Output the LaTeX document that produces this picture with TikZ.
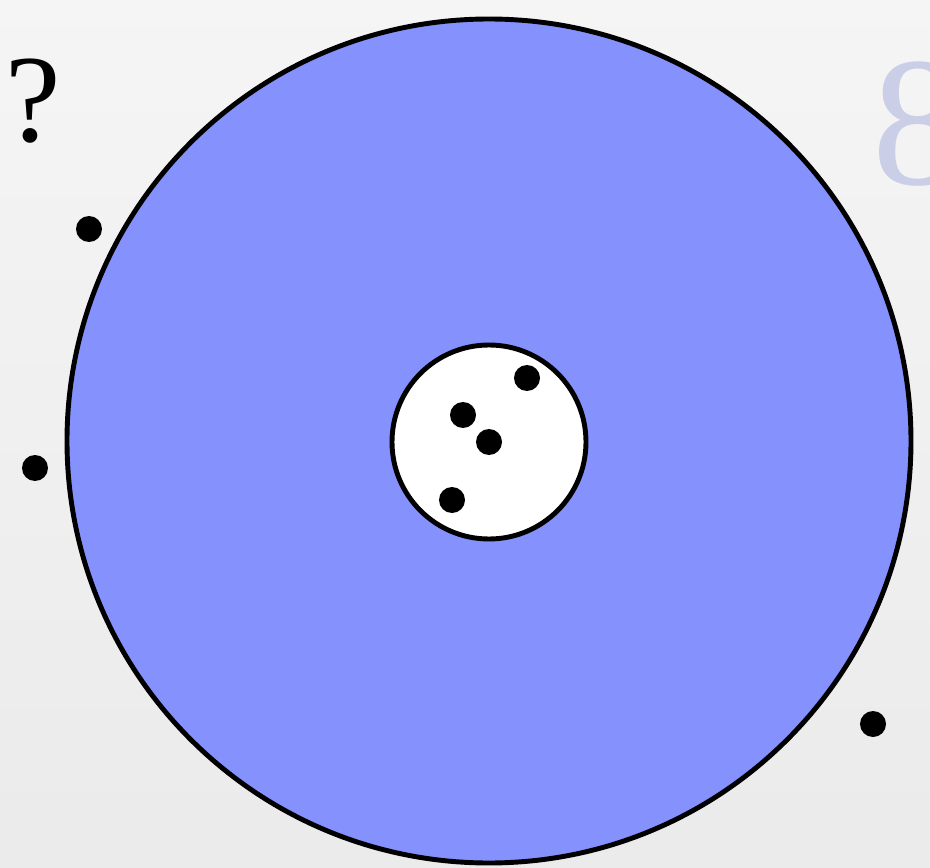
\documentclass[tikz,border=0pt]{standalone}
\usepackage{fontspec}
\setmainfont{Liberation Serif}
\definecolor{regionblue}{RGB}{133,145,253}
\definecolor{faintnum}{RGB}{202,206,230}
\begin{document}
\begin{tikzpicture}[
          x=0.02cm, y=-0.02cm,
          region/.style={
            circle, draw=black, line width=2.8pt, inner sep=0pt
          },
          outer/.style={region, fill=regionblue, minimum size=844*0.02cm},
          inner/.style={region, fill=white, minimum size=194*0.02cm},
          point/.style={circle, fill=black, inner sep=0pt, minimum size=26*0.02cm},
        ]
          % Frame and background
          \useasboundingbox (0,0) rectangle (930,868);
          \shade[top color=black!4, bottom color=black!8] (0,0) rectangle (930,868);
          \clip (0,0) rectangle (930,868);

          % Labels
          \node[anchor=base east, inner sep=0pt, font=\fontsize{71}{76}\selectfont] (ask) at (61,142) {.?};
          \node[anchor=base west, inner sep=0pt, text=faintnum, font=\fontsize{105}{110}\selectfont] (num) at (872,185) {8};

          % Regions
          \node[outer] (big) at (489,441) {};
          \node[inner] (small) at (489,442) {};

          % Points outside
          \node[point] (p1) at (89,229) {};
          \node[point] (p2) at (35,468) {};
          \node[point] (p3) at (873,724) {};

          % Points inside
          \node[point] (q1) at (527,378) {};
          \node[point] (q2) at (463,415) {};
          \node[point] (q3) at (489,442) {};
          \node[point] (q4) at (452,500) {};
        \end{tikzpicture}
\end{document}
